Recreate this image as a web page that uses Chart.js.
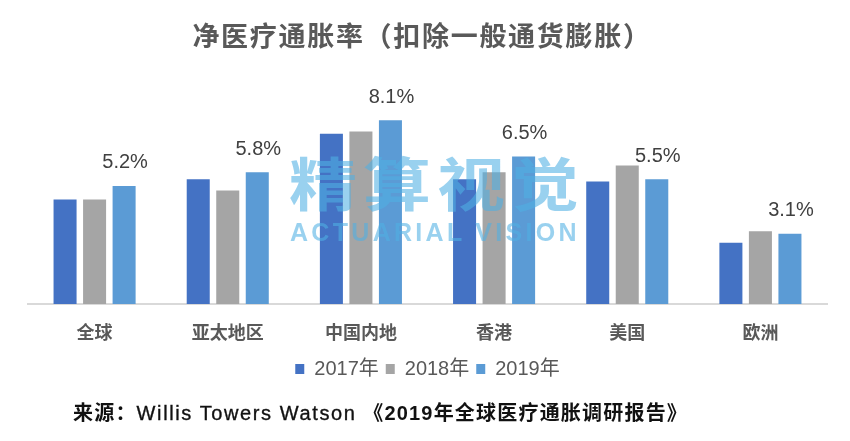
<!DOCTYPE html>
<html>
<head>
<meta charset="utf-8">
<title>净医疗通胀率</title>
<script src="https://cdn.jsdelivr.net/npm/chart.js@4"></script>
<style>
  html, body { margin: 0; background: #fff; }
  #wrap { position: relative; width: 850px; height: 441px; overflow: hidden; }
  #wrap div { position: absolute; white-space: nowrap; }
  #chart-title { left: -3px; width: 850px; top: 15px; text-align: center; color: #595959; letter-spacing: 1.7px;
    font: bold 27px "Liberation Sans", "Noto Sans CJK SC"; }
  #source { left: 73px; top: 397px; color: #111; letter-spacing: 1.2px;
    font: bold 20px "Liberation Sans", "Noto Sans CJK SC"; }
  #source span { font-weight: normal; letter-spacing: 1.6px; -webkit-text-stroke: .35px #111; }
  #mark-cn { left: 289px; top: 131px; color: rgba(80,175,228,.58); letter-spacing: 6px;
    font: bold 68px "Noto Sans CJK SC"; transform: scaleY(.85); transform-origin: 0 50%; }
  #mark-en { left: 290px; top: 218px; color: rgba(80,175,228,.58); letter-spacing: 3.3px;
    font: bold 25px "Liberation Sans"; }
</style>
</head>
<body>
<div id="wrap">
  <canvas id="chart" width="850" height="441"></canvas>
  <div id="chart-title">净医疗通胀率（扣除一般通货膨胀）</div>
  <div id="mark-cn">精算视觉</div>
  <div id="mark-en">ACTUARIAL VISION</div>
  <div id="source">来源：<span>Willis Towers Watson</span> 《2019年全球医疗通胀调研报告》</div>
</div>
<script>
const categories = ['全球', '亚太地区', '中国内地', '香港', '美国', '欧洲'];
const values2017 = [4.6, 5.5, 7.5, 5.5, 5.4, 2.7];
const values2018 = [4.6, 5.0, 7.6, 5.8, 6.1, 3.2];
const values2019 = [5.2, 5.8, 8.1, 6.5, 5.5, 3.1];

// INFO only the 2019 bars carry a label in the original
const labelPlugin = {
  id: 'labels2019',
  afterDatasetsDraw(chart) {
    const { ctx } = chart;
    ctx.save();
    ctx.font = '20px "Liberation Sans"';
    ctx.fillStyle = '#404040';
    ctx.textAlign = 'center';
    ctx.textBaseline = 'middle';
    chart.getDatasetMeta(2).data.forEach((bar, i) => {
      ctx.fillText(values2019[i].toFixed(1) + '%', bar.x + 1, bar.y - 23);
    });
    ctx.restore();
  }
};

new Chart(document.getElementById('chart'), {
  type: 'bar',
  data: {
    labels: categories,
    datasets: [
      { label: '2017年', data: values2017, backgroundColor: '#4472c4' },
      { label: '2018年', data: values2018, backgroundColor: '#a5a5a5' },
      { label: '2019年', data: values2019, backgroundColor: '#5b9bd5' }
    ]
  },
  options: {
    responsive: false,
    animation: false,
    categoryPercentage: 0.665,
    barPercentage: 0.78,
    layout: { padding: { left: 28, right: 23, top: 77, bottom: 52 } },
    plugins: {
      title: { display: false },
      tooltip: { enabled: false },
      legend: {
        position: 'bottom',
        labels: {
          boxWidth: 9,
          boxHeight: 10,
          padding: 7,
          color: '#595959',
          font: { size: 20, family: '"Liberation Sans", "Noto Sans CJK SC"' }
        }
      }
    },
    scales: {
      y: { display: false, min: 0, max: 10 },
      x: {
        // fixed height so the legend can sit closer than chart.js would put it
        afterFit(scale) { scale.height = 48; },
        grid: { display: false, drawTicks: false },
        border: { color: '#d9d9d9', width: 2 },
        ticks: {
          padding: 17,
          color: '#595959',
          font: { size: 18, weight: 'bold', family: '"Noto Sans CJK SC"' }
        }
      }
    }
  },
  plugins: [labelPlugin]
});
</script>
</body>
</html>
